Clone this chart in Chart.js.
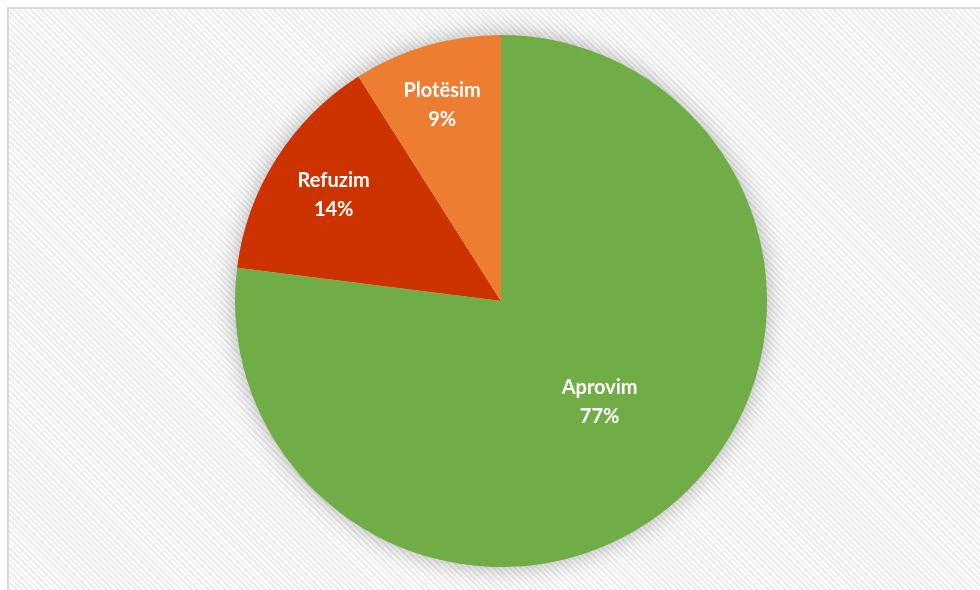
<!DOCTYPE html>
<html><head><meta charset="utf-8">
<script src="https://cdn.jsdelivr.net/npm/chart.js@4.4.1/dist/chart.umd.min.js"></script>
<style>
html,body{margin:0;padding:0;background:#fff;width:980px;height:590px;overflow:hidden;}
#frame{position:absolute;left:7px;top:7px;width:990px;height:600px;border-left:2px solid #d9d9d9;border-top:2px solid #d9d9d9;
background:repeating-linear-gradient(45deg,#ffffff 0px,#ffffff 2px,#ececec 2px,#ececec 4px);}
#wrap{position:absolute;left:0;top:0;width:980px;height:590px;}
</style></head>
<body>
<div id="frame"></div>
<div id="wrap"><canvas id="c" width="980" height="590"></canvas></div>
<script>
const categories = ["Aprovim", "Refuzim", "Plotësim"];
const percentLabels = ["77%", "14%", "9%"];
const values = [77, 14, 9];
const colors = ["#70AD47", "#CC3300", "#ED7D31"];
const labelRadius = [0.53, 0.745, 0.77];
const labelAngleShift = [-3, 0, -0.5];

const shadowPlugin = {
  id: 'pieShadow',
  beforeDatasetsDraw(chart) {
    const arc = chart.getDatasetMeta(0).data[0];
    if (!arc) return;
    const ctx = chart.ctx;
    ctx.save();
    ctx.shadowColor = 'rgba(0,0,0,0.32)';
    ctx.shadowBlur = 24;
    ctx.fillStyle = '#ffffff';
    ctx.beginPath();
    ctx.arc(arc.x, arc.y, arc.outerRadius - 1, 0, Math.PI * 2);
    ctx.fill();
    ctx.restore();
  }
};

const labelPlugin = {
  id: 'sliceLabels',
  afterDatasetsDraw(chart) {
    const ctx = chart.ctx;
    const meta = chart.getDatasetMeta(0);
    ctx.save();
    ctx.fillStyle = '#ffffff';
    ctx.font = 'bold 20px Lato, "Open Sans", sans-serif';
    ctx.textAlign = 'center';
    ctx.textBaseline = 'middle';
    meta.data.forEach((a, i) => {
      const mid = (a.startAngle + a.endAngle) / 2 + labelAngleShift[i] * Math.PI / 180;
      const r = a.outerRadius * labelRadius[i];
      const x = a.x + Math.cos(mid) * r;
      const y = a.y + Math.sin(mid) * r;
      ctx.fillText(categories[i], x, y - 14.5);
      ctx.fillText(percentLabels[i], x, y + 14.5);
    });
    ctx.restore();
  }
};

new Chart(document.getElementById('c'), {
  type: 'pie',
  data: {
    labels: categories,
    datasets: [{ data: values, backgroundColor: colors, borderWidth: 0 }]
  },
  options: {
    responsive: false,
    animation: false,
    layout: { padding: { top: 35, bottom: 23, left: 22, right: 0 } },
    plugins: { legend: { display: false }, tooltip: { enabled: false } }
  },
  plugins: [shadowPlugin, labelPlugin]
});
</script>
</body></html>
